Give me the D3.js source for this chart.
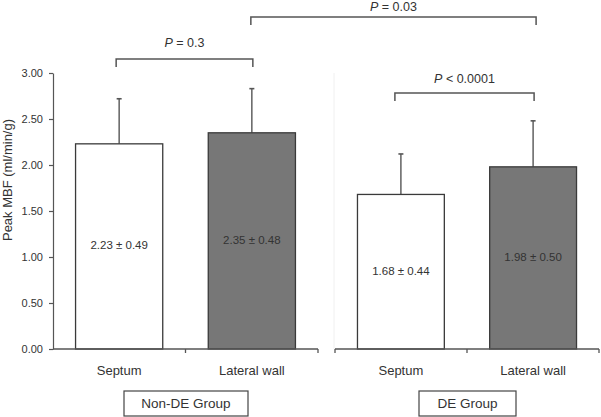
<!DOCTYPE html>
<html><head><meta charset="utf-8">
<script src="https://cdn.jsdelivr.net/npm/d3@7"></script>
<style>body{margin:0;background:#fff}svg{display:block;font-family:"Liberation Sans",Arial,sans-serif}</style>
</head><body><svg id="c" width="601" height="417"></svg>
<script>
const groups = ["Non-DE Group", "DE Group"];
const categories = ["Septum", "Lateral wall"];
const nonDEMeans = [2.23, 2.35];
const nonDESD = [0.49, 0.48];
const deMeans = [1.68, 1.98];
const deSD = [0.44, 0.50];
const yTicks = [0, 0.5, 1.0, 1.5, 2.0, 2.5, 3.0];
const yTitle = "Peak MBF (ml/min/g)";
const pTexts = ["= 0.3", "= 0.03", " < 0.0001"];

const svg = d3.select("#c");
const y = d3.scaleLinear().domain([0, 3]).range([349, 73]);
const panelRanges = [[53, 318], [335, 599]];
const xs = panelRanges.map(r => d3.scaleBand().domain(categories).range(r).paddingInner(0.343).paddingOuter(0.17));
const means = [nonDEMeans, deMeans];
const sds = [nonDESD, deSD];
const fills = ["#ffffff", "#777777"];
const dark = "#3a3a3a";

svg.append("line").attr("x1", 334).attr("x2", 334).attr("y1", y(3)).attr("y2", y(0))
  .attr("stroke", "#f0f0f0").attr("stroke-width", 1);

const yAxis = svg.append("g").attr("transform", "translate(53,0)")
  .call(d3.axisLeft(y).tickValues(yTicks).tickFormat(d3.format(".2f")).tickSize(4).tickSizeOuter(0).tickPadding(6));
yAxis.selectAll("path,line").attr("stroke", "#555").attr("stroke-width", 1.2);
yAxis.selectAll("text").attr("font-size", 11).attr("fill", "#333").attr("font-family", "Liberation Sans, Arial, sans-serif");

svg.append("text").attr("transform", `translate(9,180) rotate(-90)`)
  .attr("text-anchor", "middle").attr("dominant-baseline", "middle")
  .attr("font-size", 13).attr("fill", "#333").text(yTitle);

groups.forEach((g, gi) => {
  const x = xs[gi];
  const [r0, r1] = x.range();
  const gg = svg.append("g");
  categories.forEach((c, ci) => {
    const m = means[gi][ci], s = sds[gi][ci];
    const cx = x(c) + x.bandwidth() / 2;
    gg.append("line").attr("x1", cx).attr("x2", cx).attr("y1", y(m)).attr("y2", y(m + s))
      .attr("stroke", "#555").attr("stroke-width", 1.4);
    gg.append("line").attr("x1", cx - 2.5).attr("x2", cx + 2.5).attr("y1", y(m + s)).attr("y2", y(m + s))
      .attr("stroke", "#555").attr("stroke-width", 1.6);
    gg.append("rect").attr("x", x(c)).attr("y", y(m)).attr("width", x.bandwidth()).attr("height", y(0) - y(m))
      .attr("fill", fills[ci]).attr("stroke", dark).attr("stroke-width", 1.3);
    gg.append("text").attr("x", cx).attr("y", y(m / 2)).attr("text-anchor", "middle")
      .attr("dominant-baseline", "middle").attr("font-size", 11.5).attr("fill", "#333")
      .text(`${m.toFixed(2)} ± ${s.toFixed(2)}`);
    gg.append("text").attr("x", cx).attr("y", 372).attr("text-anchor", "middle")
      .attr("dominant-baseline", "middle").attr("font-size", 13).attr("fill", "#333").text(c);
  });
  const mid = (r0 + r1) / 2;
  gg.append("line").attr("x1", r0).attr("x2", r1).attr("y1", y(0)).attr("y2", y(0))
    .attr("stroke", "#555").attr("stroke-width", 1.3);
  [r0, mid, r1].forEach((tx, i) => {
    if (gi === 0 && i === 0) return;
    gg.append("line").attr("x1", tx).attr("x2", tx).attr("y1", y(0)).attr("y2", y(0) + 4)
      .attr("stroke", "#555").attr("stroke-width", 1.3);
  });
  const bw = gi === 0 ? 124 : 97;
  const bc = gi === 0 ? 186 : 467.5;
  gg.append("rect").attr("x", bc - bw / 2).attr("y", 391).attr("width", bw).attr("height", 25)
    .attr("fill", "#fff").attr("stroke", "#444").attr("stroke-width", 1.2);
  gg.append("text").attr("x", bc).attr("y", 404).attr("text-anchor", "middle")
    .attr("dominant-baseline", "middle").attr("font-size", 13.5).attr("fill", "#333").text(g);
});

const cxOf = (gi, ci) => xs[gi](categories[ci]) + xs[gi].bandwidth() / 2;
const brackets = [
  {a: [0, 0], b: [0, 1], yl: 59, leg: 8, ty: 44, dx: [-3, 1]},
  {a: [0, 1], b: [1, 1], yl: 17, leg: 8, ty: 8, dx: [-1, 3]},
  {a: [1, 0], b: [1, 1], yl: 93, leg: 8, ty: 80, dx: [-6, 1]}
];
brackets.forEach((br, i) => {
  const x1 = cxOf(...br.a) + br.dx[0], x2 = cxOf(...br.b) + br.dx[1];
  svg.append("path").attr("d", `M${x1},${br.yl + br.leg}V${br.yl}H${x2}V${br.yl + br.leg}`)
    .attr("fill", "none").attr("stroke", "#555").attr("stroke-width", 1.5);
  const t = svg.append("text").attr("x", (x1 + x2) / 2).attr("y", br.ty).attr("text-anchor", "middle")
    .attr("dominant-baseline", "middle").attr("font-size", 12.5).attr("fill", "#333");
  t.append("tspan").attr("font-style", "italic").text("P");
  t.append("tspan").text(" " + pTexts[i]);
});
</script></body></html>
